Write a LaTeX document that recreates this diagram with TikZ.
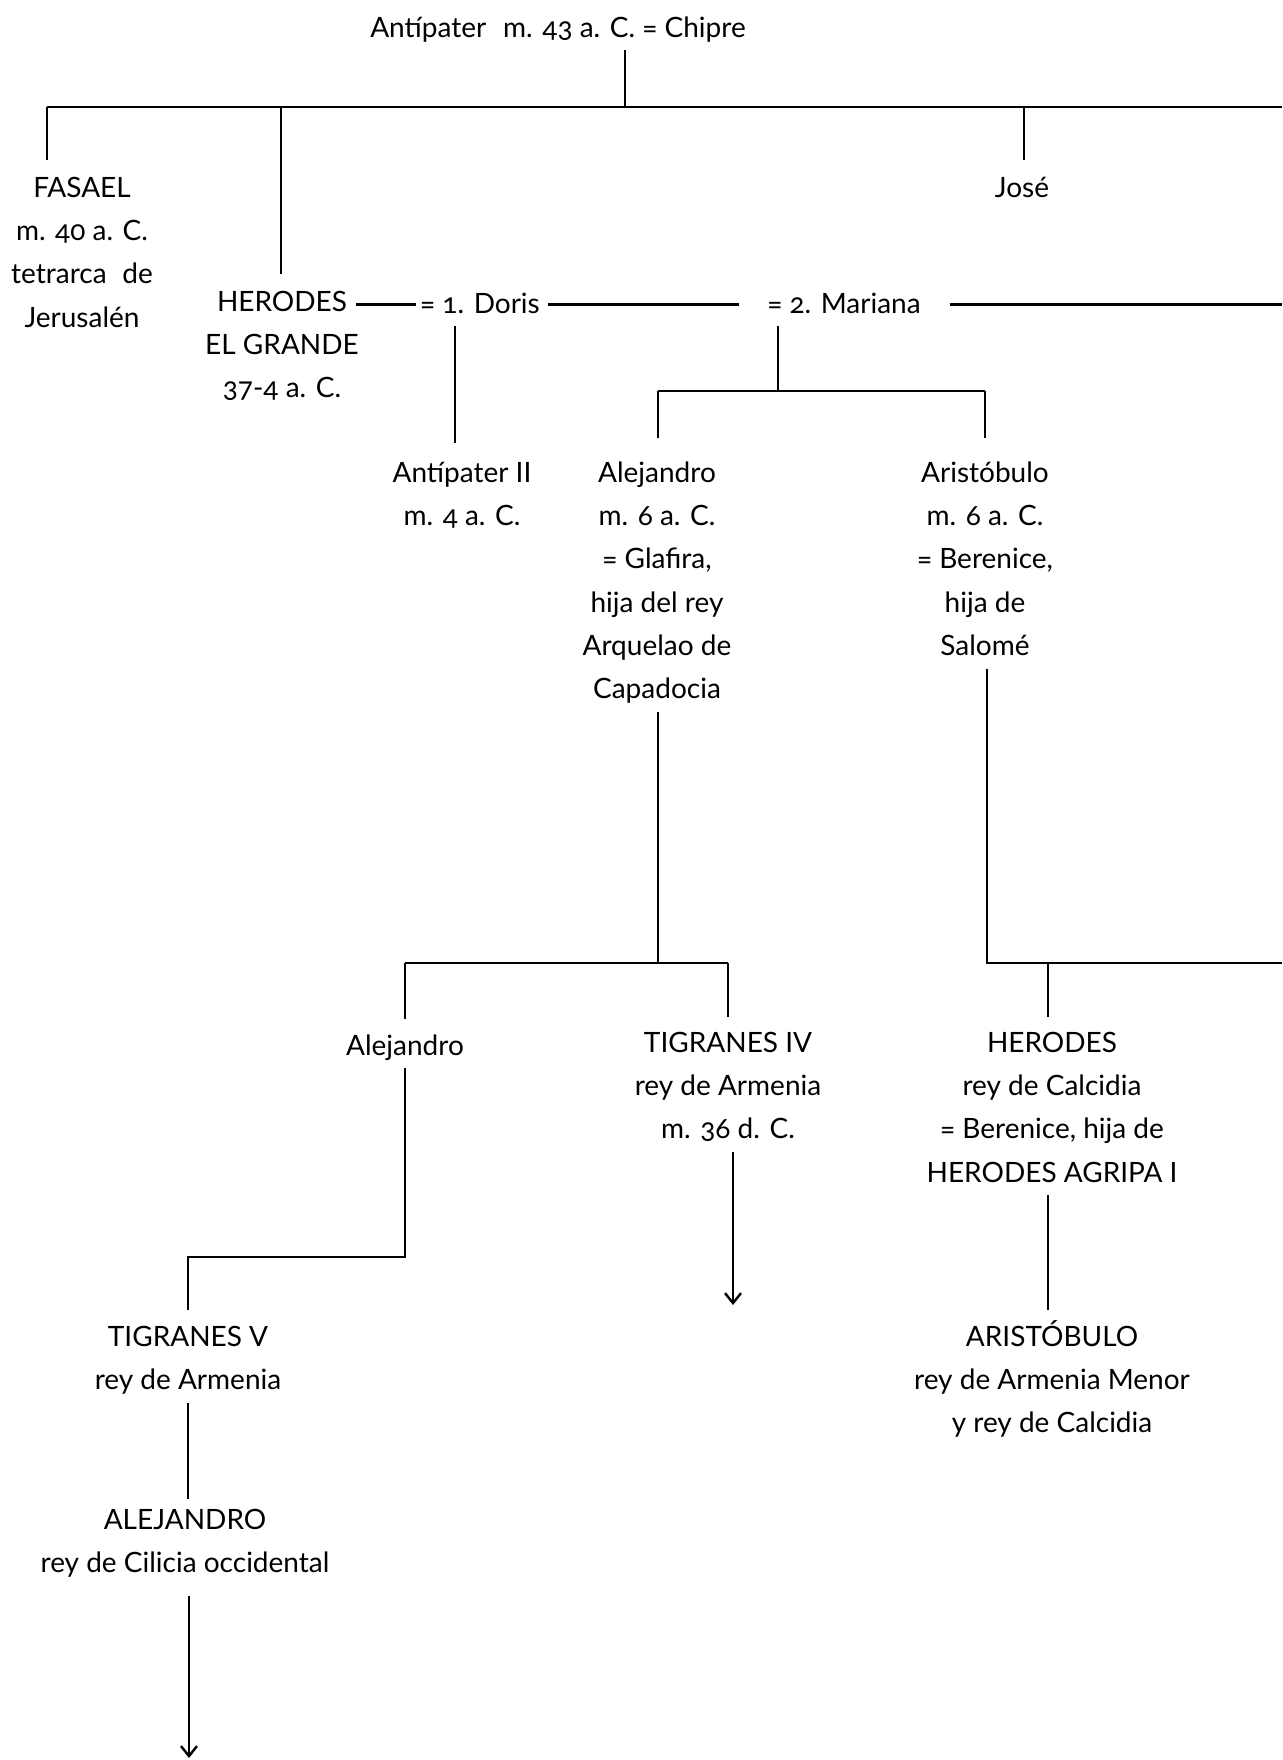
\documentclass[tikz,border=0pt]{standalone}
\usepackage{fontspec}
\setmainfont{Lato}[Numbers=OldStyle]
\usetikzlibrary{arrows.meta}
\tikzset{
  lbl/.style={inner sep=0pt, outer sep=0pt, align=center, anchor=north,
    font=\fontsize{14}{21.65}\selectfont},
  ln/.style={line width=1.2pt},
  arr/.style={line width=1.2pt, -{Straight Barb[length=5pt,width=8pt]}}
}
\begin{document}
\begin{tikzpicture}[x=0.5pt,y=-0.5pt]
\useasboundingbox (0,0) rectangle (1282,1760);
% people
\node[lbl] (top) at (558,7) {\strut Antípater\hspace{0.35em} m. 43 a. C. = Chipre};
\node[lbl] (fasael) at (82,167) {\strut FASAEL\\ m. 40 a. C.\\ tetrarca\hspace{0.3em} de\\ Jerusalén\strut};
\node[lbl] (jose) at (1022,167) {\strut José};
\node[lbl] (herodes) at (282,281) {\strut HERODES\\ EL GRANDE\\ 37-4 a. C.\strut};
\node[lbl] (doris) at (480,283) {\strut = 1. Doris};
\node[lbl] (mariana) at (844,283) {\strut = 2. Mariana};
\node[lbl] (antII) at (462,452) {\strut Antípater II\\ m. 4 a. C.\strut};
\node[lbl] (alej1) at (657,452) {\strut Alejandro\\ m. 6 a. C.\\ = Glafira,\\ hija del rey\\ Arquelao de\\ Capadocia\strut};
\node[lbl] (arist1) at (985,452) {\strut Aristóbulo\\ m. 6 a. C.\\ = Berenice,\\ hija de\\ Salomé\strut};
\node[lbl] (alej2) at (405,1025) {\strut Alejandro};
\node[lbl] (tig4) at (728,1022) {\strut TIGRANES IV\\ rey de Armenia\\ m. 36 d. C.\strut};
\node[lbl] (herodes2) at (1052,1022) {\strut HERODES\\ rey de Calcidia\\ = Berenice, hija de\\ HERODES AGRIPA I\strut};
\node[lbl] (tig5) at (188,1316) {\strut TIGRANES V\\ rey de Armenia\strut};
\node[lbl] (aristo2) at (1052,1316) {\strut ARISTÓBULO\\ rey de Armenia Menor\\ y rey de Calcidia\strut};
\node[lbl] (alej3) at (185,1499) {\strut ALEJANDRO\\ rey de Cilicia occidental\strut};
% junctions
\coordinate (b0) at (625,107);
\coordinate (bL) at (47,107);
\coordinate (bR) at (1282,107);
\coordinate (bH) at (281,107);
\coordinate (bJ) at (1024,107);
\coordinate (hd) at (356,0);
\coordinate (dv) at (455,0);
\coordinate (m1) at (778,391);
\coordinate (m1L) at (658,391);
\coordinate (m1R) at (985,391);
\coordinate (a1) at (658,963);
\coordinate (a1L) at (405,963);
\coordinate (a1R) at (728,963);
\coordinate (r1) at (987,963);
\coordinate (r1R) at (1282,963);
\coordinate (r1H) at (1048,963);
\coordinate (s1) at (405,1257);
\coordinate (t4end) at (733,1305);
\coordinate (a3end) at (189,1758);
% connectors
\draw[ln] (top.south -| b0) -- (b0);
\draw[ln] (bL) -- (bR);
\draw[ln, shorten >=3.5pt] (bL) -- (bL |- fasael.north);
\draw[ln, shorten >=3.5pt] (bH) -- (bH |- herodes.north);
\draw[ln, shorten >=3.5pt] (bJ) -- (bJ |- jose.north);
\draw[ln, shorten >=2pt] (hd |- doris.west) -- (doris.west);
\draw[ln, shorten <=4pt, shorten >=14pt] (doris.east) -- (mariana.west);
\draw[ln, shorten <=14.5pt] (mariana.east) -- (mariana.east -| bR);
\draw[ln, shorten >=4.5pt] (doris.south -| dv) -- (antII.north -| dv);
\draw[ln] (mariana.south -| m1) -- (m1);
\draw[ln] (m1L) -- (m1R);
\draw[ln, shorten >=7pt] (m1L) -- (m1L |- alej1.north);
\draw[ln, shorten >=7pt] (m1R) -- (m1R |- arist1.north);
\draw[ln] (alej1.south -| a1) -- (a1);
\draw[ln] (a1L) -- (a1R);
\draw[ln, shorten >=3pt] (a1L) -- (alej2.north);
\draw[ln, shorten >=2.5pt] (a1R) -- (tig4.north);
\draw[ln] (arist1.south -| r1) -- (r1) -- (r1R);
\draw[ln, shorten >=2.5pt] (r1H) -- (r1H |- herodes2.north);
\draw[ln, shorten >=3pt] (alej2.south) -- (s1) -| (tig5.north);
\draw[arr] (tig4.south -| t4end) -- (t4end);
\draw[ln, shorten >=3pt] (herodes2.south -| r1H) -- (aristo2.north -| r1H);
\draw[ln] (tig5.south) -- (alej3.north -| tig5.south);
\draw[arr, shorten <=5pt] (alej3.south -| a3end) -- (a3end);
\end{tikzpicture}
\end{document}
